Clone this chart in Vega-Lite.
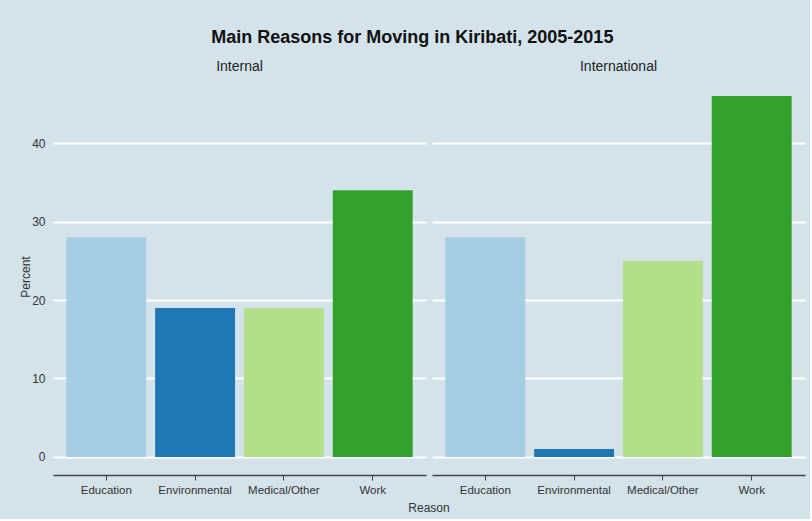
{
  "$schema": "https://vega.github.io/schema/vega-lite/v6.json",
  "background": "#d4e2ea",
  "padding": {"left": 19, "top": 29, "right": 5, "bottom": 5},
  "title": {
    "text": "Main Reasons for Moving in Kiribati, 2005-2015",
    "fontSize": 18,
    "font": "Liberation Sans Narrow, Liberation Sans, Arial",
    "fontWeight": "bold",
    "color": "#111111",
    "offset": 13,
    "anchor": "middle"
  },
  "data": {
    "values": [
      {"Type": "Internal", "Reason": "Education", "Percent": 28},
      {"Type": "Internal", "Reason": "Environmental", "Percent": 19},
      {"Type": "Internal", "Reason": "Medical/Other", "Percent": 19},
      {"Type": "Internal", "Reason": "Work", "Percent": 34},
      {"Type": "International", "Reason": "Education", "Percent": 28},
      {"Type": "International", "Reason": "Environmental", "Percent": 1},
      {"Type": "International", "Reason": "Medical/Other", "Percent": 25},
      {"Type": "International", "Reason": "Work", "Percent": 46}
    ]
  },
  "spacing": 6,
  "facet": {
    "column": {
      "field": "Type",
      "type": "nominal",
      "sort": ["Internal", "International"],
      "title": "Reason",
      "header": {
        "titleOrient": "bottom",
        "labelOrient": "top",
        "titleFont": "Liberation Sans Narrow, Liberation Sans, Arial",
        "titleFontSize": 12,
        "titleFontWeight": "normal",
        "titleColor": "#333333",
        "titlePadding": -3,
        "labelFont": "Liberation Sans Narrow, Liberation Sans, Arial",
        "labelFontSize": 14,
        "labelColor": "#222222",
        "labelPadding": 4
      }
    }
  },
  "spec": {
    "width": 373,
    "height": 397,
    "mark": {"type": "bar"},
    "encoding": {
      "x": {
        "field": "Reason",
        "type": "nominal",
        "title": null,
        "sort": ["Education", "Environmental", "Medical/Other", "Work"],
        "scale": {"paddingInner": 0.1, "paddingOuter": 0.15},
        "axis": {
          "labelAngle": 0,
          "grid": false,
          "domainColor": "#444444",
          "domainWidth": 1.5,
          "tickColor": "#444444",
          "tickWidth": 1,
          "tickSize": 5,
          "labelPadding": 4,
          "labelFontSize": 11.5,
          "labelColor": "#333333",
          "labelFont": "Liberation Sans Narrow, Liberation Sans, Arial"
        }
      },
      "y": {
        "field": "Percent",
        "type": "quantitative",
        "title": "Percent",
        "scale": {"domain": [-2.3, 48.3], "nice": false, "zero": false},
        "axis": {
          "values": [0, 10, 20, 30, 40],
          "grid": true,
          "gridColor": "#ffffff",
          "gridWidth": 2,
          "domain": false,
          "ticks": false,
          "labelPadding": 8,
          "labelFontSize": 12,
          "labelColor": "#333333",
          "labelFont": "Liberation Sans Narrow, Liberation Sans, Arial",
          "titleFont": "Liberation Sans Narrow, Liberation Sans, Arial",
          "titleFontSize": 12,
          "titleFontWeight": "normal",
          "titleColor": "#333333",
          "titlePadding": -1
        }
      },
      "y2": {"datum": 0},
      "color": {
        "field": "Reason",
        "type": "nominal",
        "scale": {
          "domain": ["Education", "Environmental", "Medical/Other", "Work"],
          "range": ["#a6cee3", "#1f78b4", "#b2df8a", "#33a02c"]
        },
        "legend": null
      }
    }
  },
  "config": {"view": {"stroke": null}}
}
